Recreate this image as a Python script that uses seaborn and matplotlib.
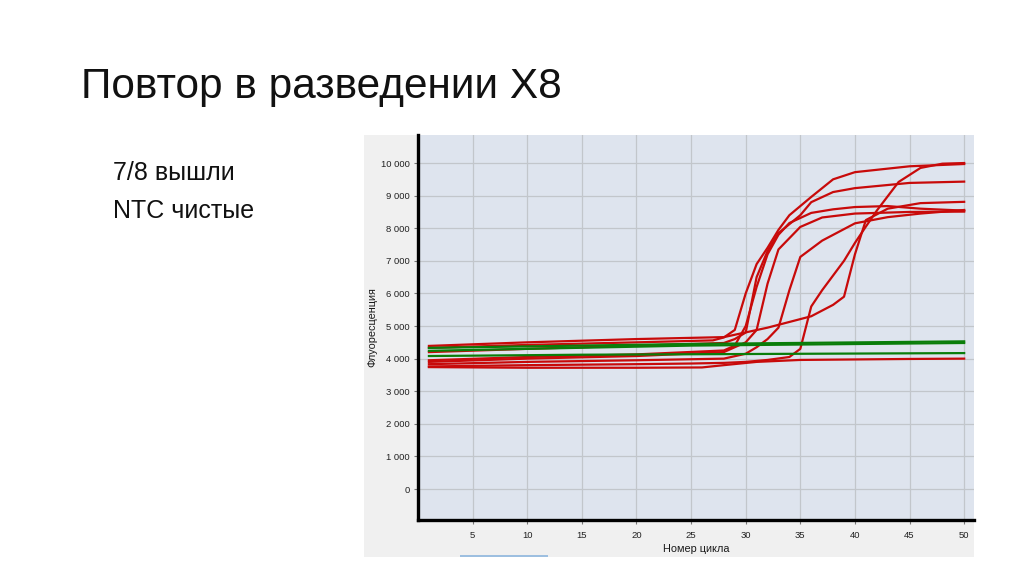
import matplotlib
matplotlib.use("Agg")
import matplotlib.pyplot as plt
from matplotlib.patches import Rectangle
import seaborn as sns
import pandas as pd

# ---------------- data ----------------
title = "Повтор в разведении X8"
notes = ["7/8 вышли", "NTC чистые"]
x_label = "Номер цикла"
y_label = "Флуоресценция"

x_ticks = [5, 10, 15, 20, 25, 30, 35, 40, 45, 50]
y_ticks = [0, 1000, 2000, 3000, 4000, 5000, 6000, 7000, 8000, 9000, 10000]
y_tick_labels = ["0", "1 000", "2 000", "3 000", "4 000", "5 000",
                 "6 000", "7 000", "8 000", "9 000", "10 000"]

# positive samples (red)
c1_cycles = [1, 10, 20, 27, 28, 29, 30, 31, 32, 33, 34, 36, 38, 40, 45, 50]
c1_values = [4330, 4420, 4500, 4560, 4650, 4880, 6000, 6900, 7400, 7950, 8400, 8960, 9500, 9720, 9900, 9970]

c2_cycles = [1, 10, 20, 28, 29, 30, 31, 32, 33, 35, 36, 38, 40, 45, 50]
c2_values = [4200, 4300, 4400, 4480, 4600, 4800, 6500, 7300, 7850, 8400, 8800, 9110, 9230, 9390, 9430]

c3_cycles = [1, 10, 20, 28, 29, 30, 31, 32, 33, 34, 36, 38, 40, 43, 46, 50]
c3_values = [3950, 4050, 4130, 4250, 4400, 5000, 6200, 7200, 7800, 8160, 8470, 8580, 8650, 8680, 8600, 8540]

c4_cycles = [1, 10, 20, 28, 30, 31, 32, 33, 35, 37, 40, 45, 50]
c4_values = [3900, 4000, 4080, 4200, 4500, 4880, 6300, 7350, 8040, 8330, 8450, 8500, 8510]

c5_cycles = [1, 10, 20, 28, 30, 31, 32, 33, 34, 35, 37, 40, 43, 46, 50]
c5_values = [3830, 3900, 3950, 4000, 4150, 4350, 4600, 4950, 6100, 7120, 7620, 8150, 8340, 8450, 8560]

c6_cycles = [1, 10, 20, 25, 28, 30, 32, 34, 35, 36, 37, 38, 39, 40, 41, 42, 44, 46, 48, 50]
c6_values = [3760, 3800, 3830, 3850, 3870, 3900, 3960, 4050, 4300, 5600, 6100, 6550, 7000, 7550, 8050, 8540, 9420, 9850, 9980, 10000]

c7_cycles = [1, 10, 20, 28, 32, 36, 38, 39, 40, 41, 43, 46, 50]
c7_values = [4390, 4500, 4600, 4660, 4950, 5300, 5650, 5900, 7200, 8250, 8600, 8770, 8810]

# negative sample (red, flat)
r8_cycles = [1, 10, 20, 26, 28, 31, 35, 45, 50]
r8_values = [3740, 3720, 3720, 3730, 3800, 3900, 3960, 3990, 4000]

# NTC (green)
g1_cycles = [1, 25, 50]
g1_values = [4330, 4450, 4530]
g2_cycles = [1, 25, 50]
g2_values = [4240, 4400, 4480]
g3_cycles = [1, 15, 50]
g3_values = [4080, 4120, 4170]

series = {
    "S1": (c1_cycles, c1_values, "pos"),
    "S2": (c2_cycles, c2_values, "pos"),
    "S3": (c3_cycles, c3_values, "pos"),
    "S4": (c4_cycles, c4_values, "pos"),
    "S5": (c5_cycles, c5_values, "pos"),
    "S6": (c6_cycles, c6_values, "pos"),
    "S7": (c7_cycles, c7_values, "pos"),
    "S8": (r8_cycles, r8_values, "pos"),
    "NTC1": (g1_cycles, g1_values, "ntc"),
    "NTC2": (g2_cycles, g2_values, "ntc"),
    "NTC3": (g3_cycles, g3_values, "ntc"),
}

rows = []
for name, (cs, vs, kind) in series.items():
    for c, v in zip(cs, vs):
        rows.append({"curve": name, "cycle": c, "value": v, "kind": kind})
df = pd.DataFrame(rows)

RED = "#c80a0a"
GREEN = "#0a7d0a"
palette = {n: (RED if k == "pos" else GREEN) for n, (_, _, k) in series.items()}

# ---------------- figure ----------------
plt.rcParams["font.family"] = ["Liberation Sans", "DejaVu Sans"]
fig = plt.figure(figsize=(10.24, 5.74), dpi=100)
fig.patch.set_facecolor("white")

W, H = 1024, 574
def fx(px):
    return px / W
def fy(py):
    return 1 - py / H

# grey panel behind the chart (its own background axes)
bg = fig.add_axes([fx(364), fy(557), fx(974) - fx(364), fy(135) - fy(557)], zorder=-5)
bg.set_facecolor("#f0f0f0")
bg.set_xticks([])
bg.set_yticks([])
for s in bg.spines.values():
    s.set_visible(False)
bg.add_patch(Rectangle(((460 - 364) / 610, 0), (548 - 460) / 610, 2.5 / 422,
                       transform=bg.transAxes, facecolor="#9dbfe0", edgecolor="none"))

ax = fig.add_axes([fx(418), fy(520), fx(974) - fx(418), fy(135) - fy(520)], zorder=1)
ax.set_facecolor("#dee4ee")

sns.lineplot(data=df[df.kind == "pos"], x="cycle", y="value", hue="curve",
             palette=palette, estimator=None, legend=False, linewidth=1.6, ax=ax)
sns.lineplot(data=df[df.kind == "ntc"], x="cycle", y="value", hue="curve",
             palette=palette, estimator=None, legend=False, linewidth=1.6, ax=ax)

ax.set_xlim(0, 50.9)
ax.set_ylim(-950, 10860)
ax.set_xticks(x_ticks)
ax.set_xticklabels([str(t) for t in x_ticks])
ax.set_yticks(y_ticks)
ax.set_yticklabels(y_tick_labels)
ax.grid(True, color="#c2c6cb", linewidth=0.9)
ax.set_axisbelow(True)

for s in ["top", "right"]:
    ax.spines[s].set_visible(False)
for s in ["left", "bottom"]:
    ax.spines[s].set_color("black")
    ax.spines[s].set_linewidth(2.4)

ax.tick_params(axis="both", labelsize=6.8, labelcolor="#222222", color="#777777",
               length=3, width=0.8)
ax.tick_params(axis="x", pad=5)
ax.tick_params(axis="y", pad=3)

ax.set_xlabel(x_label, fontsize=7.8, color="#1a1a1a")
ax.set_ylabel(y_label, fontsize=7.8, color="#1a1a1a")
ax.xaxis.set_label_coords(0.5, -(549 - 520) / (520 - 135))
ax.xaxis.label.set_va("center")
ax.yaxis.set_label_coords(-(418 - 372) / (974 - 418), 0.5)
ax.yaxis.label.set_va("center")

# slide text
fig.text(fx(81), fy(98), title, fontsize=30.5, color="#111111", va="baseline", ha="left")
fig.text(fx(113), fy(180), notes[0], fontsize=18, color="#111111", va="baseline", ha="left")
fig.text(fx(113), fy(218), notes[1], fontsize=18, color="#111111", va="baseline", ha="left")

fig.savefig("out.png", dpi=100)
